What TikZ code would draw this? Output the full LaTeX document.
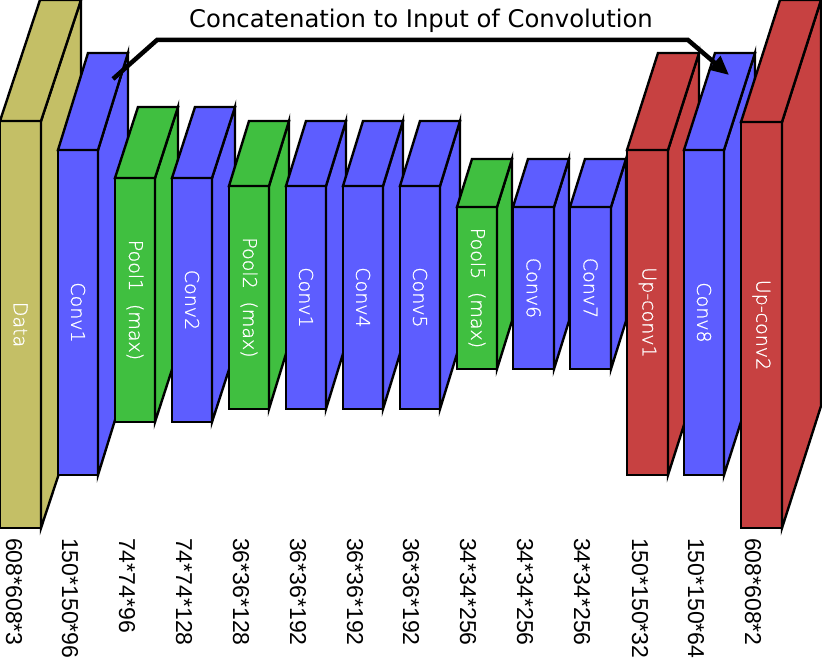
\documentclass[tikz,border=0pt]{standalone}
\usepackage{fontspec}
\setmainfont{DejaVu Sans}
\newfontfamily\lblfont[FakeBold=0.9]{DejaVu Sans ExtraLight}
\newfontfamily\dimfont{Liberation Sans}
\usetikzlibrary{arrows.meta}
\definecolor{cdata}{RGB}{196,191,102}
\definecolor{cconv}{RGB}{93,93,255}
\definecolor{cpool}{RGB}{64,191,64}
\definecolor{cup}{RGB}{199,65,65}
\tikzset{
  edge/.style={draw=black,line width=2.4pt,line join=miter},
  frontbox/.style={edge,rectangle,inner sep=0pt,outer sep=0pt},
  inlbl/.style={text=white,rotate=-90,inner sep=0pt,font=\lblfont\fontsize{19}{21}\selectfont},
  dimlbl/.style={text=black,rotate=-90,anchor=west,inner sep=0pt,font=\dimfont\fontsize{23}{25}\selectfont},
  concat/.style={draw=black,line width=4.5pt,line join=miter,-{Triangle[length=19pt,width=17pt]}},
  titlelbl/.style={inner sep=0pt,font=\fontsize{24.3}{27}\selectfont}
}
% name, x, ytop, w, h, dx, dy, colour, label
\newcommand\blk[9]{%
  \node[frontbox,fill=#8,minimum width=#4pt,minimum height=#5pt,anchor=north west] (#1) at (#2,#3) {};
  \draw[edge,fill=#8] (#1.north east) -- ++(#6,-#7) -- ++(0,#5) -- (#1.south east) -- cycle;
  \draw[edge,fill=#8] (#1.north west) -- ++(#6,-#7) -- ++(#4,0) -- (#1.north east) -- cycle;
  \node[inlbl] (#1-l) at (#1.center) {#9};
}
\newcommand\mx{\hspace{0.35em}(max)}
\begin{document}
\begin{tikzpicture}[x=1pt,y=-1pt]
\useasboundingbox (0,0) rectangle (822,660);
\blk{data}{0}{121}{41}{407}{40}{121}{cdata}{Data}
\blk{conva}{58}{150}{40}{325}{30}{97}{cconv}{Conv1}
\blk{poola}{115}{178}{40}{244}{23}{71}{cpool}{Pool1 \mx}
\blk{convb}{172}{178}{40}{244}{23}{71}{cconv}{Conv2}
\blk{poolb}{229}{186}{40}{223}{20}{65}{cpool}{Pool2 \mx}
\blk{convc}{286}{186}{40}{223}{20}{65}{cconv}{Conv1}
\blk{convd}{343}{186}{40}{223}{20}{65}{cconv}{Conv4}
\blk{conve}{400}{186}{40}{223}{20}{65}{cconv}{Conv5}
\blk{poolc}{457}{207}{40}{162}{15}{48}{cpool}{Pool5 \mx}
\blk{convf}{513}{207}{41}{162}{15}{48}{cconv}{Conv6}
\blk{convg}{570}{207}{41}{162}{15}{48}{cconv}{Conv7}
\blk{upa}{627}{150}{41}{325}{31}{97}{cup}{Up-conv1}
\blk{convh}{684}{150}{40}{325}{31}{97}{cconv}{Conv8}
\blk{upb}{741}{122}{41}{406}{39}{122}{cup}{Up-conv2}
% dimension labels
\node[dimlbl] (d1) at (14,538) {608*608*3};
\node[dimlbl] (d2) at (70,538) {150*150*96};
\node[dimlbl] (d3) at (127,538) {74*74*96};
\node[dimlbl] (d4) at (184,538) {74*74*128};
\node[dimlbl] (d5) at (241,538) {36*36*128};
\node[dimlbl] (d6) at (298,538) {36*36*192};
\node[dimlbl] (d7) at (355,538) {36*36*192};
\node[dimlbl] (d8) at (411,538) {36*36*192};
\node[dimlbl] (d9) at (468,538) {34*34*256};
\node[dimlbl] (d10) at (525,538) {34*34*256};
\node[dimlbl] (d11) at (582,538) {34*34*256};
\node[dimlbl] (d12) at (640,538) {150*150*32};
\node[dimlbl] (d13) at (696,538) {150*150*64};
\node[dimlbl] (d14) at (753,538) {608*608*2};
% concatenation arrow
\node[titlelbl] (title) at (421,21) {Concatenation to Input of Convolution};
\coordinate (as) at (113,79);
\coordinate (c1) at (157,40);
\coordinate (c2) at (688,40);
\coordinate (ae) at (729,75);
\draw[concat] (as) -- (c1) -- (c2) -- (ae);
\end{tikzpicture}
\end{document}
